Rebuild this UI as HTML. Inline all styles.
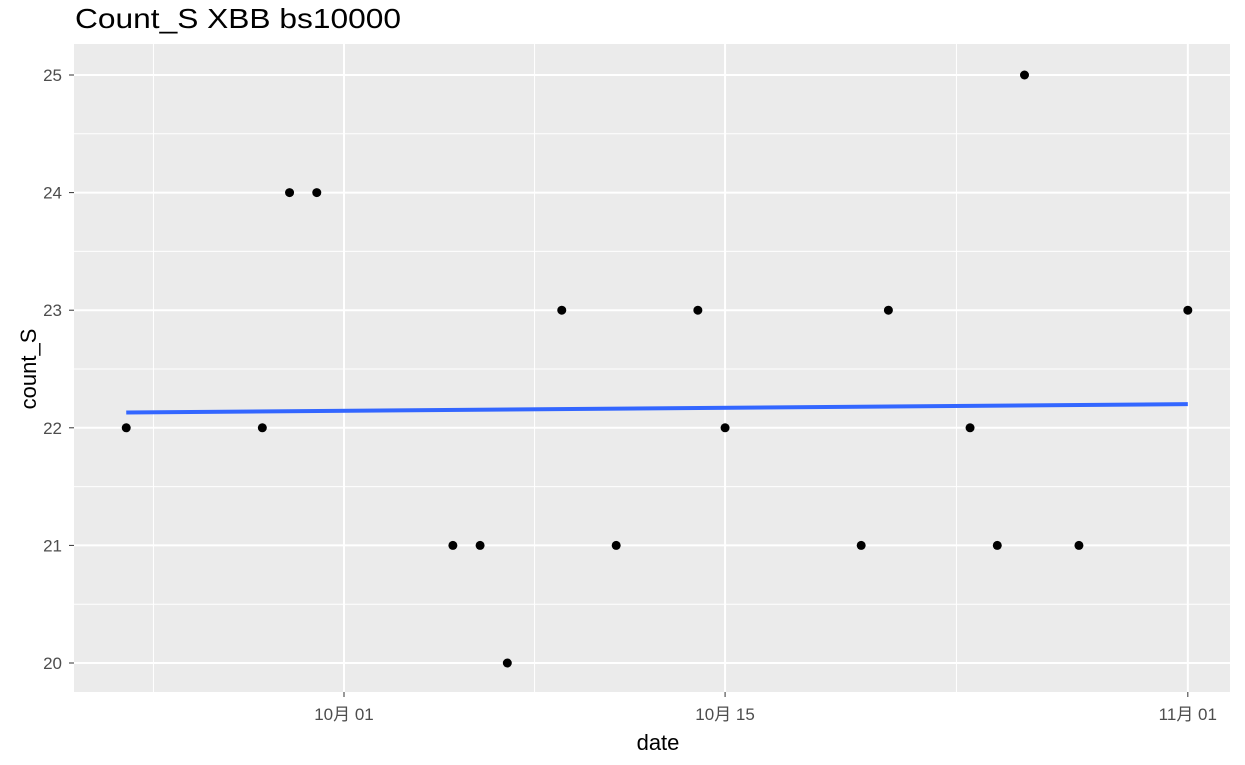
<!DOCTYPE html>
<html><head><meta charset="utf-8"><style>
body{margin:0;background:#fff;}
svg text{font-family:"Liberation Sans","Noto Sans CJK SC",sans-serif;}
</style></head><body>
<svg width="1245" height="760" xmlns="http://www.w3.org/2000/svg">
<text x="75" y="28" font-size="28" textLength="326" lengthAdjust="spacingAndGlyphs" fill="#000">Count_S XBB bs10000</text>
<rect x="74" y="44" width="1156" height="648" fill="#ebebeb"/>
<g id="grid"></g><g id="axes"></g><g id="marks"></g>
<text x="658" y="750" font-size="22" text-anchor="middle" fill="#000">date</text>
<text transform="translate(36,369) rotate(-90)" font-size="22" text-anchor="middle" fill="#000">count_S</text>
</svg>
<script>
const dayOffsets=[-8,-3,-2,-1,4,5,6,8,10,13,14,19,20,23,24,25,27,31];
const counts=[22,22,24,24,21,21,20,23,21,23,22,21,23,22,21,25,21,23];
const yTicks=[20,21,22,23,24,25];
const xTickDays=[0,14,31];
const xTickLabels=["10月 01","10月 15","11月 01"];
const xMinorDays=[-7,7,22.5];
const NS="http://www.w3.org/2000/svg";
const X=d=>344+d*27.22;
const Y=v=>663-(v-20)*117.6;
function mk(tag,attrs,parent){const e=document.createElementNS(NS,tag);for(const k in attrs)e.setAttribute(k,attrs[k]);document.getElementById(parent).appendChild(e);return e;}
yTicks.forEach((v,i)=>{
  if(v<25){
    let m=mk('line',{x1:74,x2:1230,y1:Y(v+0.5),y2:Y(v+0.5),stroke:'#fff','stroke-width':1},'grid');
    
  }
  let g=mk('line',{x1:74,x2:1230,y1:Y(v),y2:Y(v),stroke:'#fff','stroke-width':2},'grid');
  
  let t=mk('text',{x:62,y:Y(v)+6,'font-size':17,'text-anchor':'end',fill:'#4d4d4d'},'axes');t.textContent=v;
  
  let tk=mk('line',{x1:69,x2:74,y1:Y(v),y2:Y(v),stroke:'#333','stroke-width':1},'axes');
  
});
xMinorDays.forEach(d=>{
  let m=mk('line',{x1:X(d),x2:X(d),y1:44,y2:692,stroke:'#fff','stroke-width':1},'grid');
  
});
xTickDays.forEach((d,i)=>{
  let g=mk('line',{x1:X(d),x2:X(d),y1:44,y2:692,stroke:'#fff','stroke-width':2},'grid');
  
  let tk=mk('line',{x1:X(d),x2:X(d),y1:692,y2:697,stroke:'#333'},'axes');
  
  let t=mk('text',{x:X(d),y:720,'font-size':17,'text-anchor':'middle',fill:'#4d4d4d'},'axes');t.textContent=xTickLabels[i];
  
});
const n=dayOffsets.length;const mx=dayOffsets.reduce((a,b)=>a+b)/n;const my=counts.reduce((a,b)=>a+b)/n;
let sxy=0,sxx=0;for(let i=0;i<n;i++){sxy+=(dayOffsets[i]-mx)*(counts[i]-my);sxx+=(dayOffsets[i]-mx)**2;}
const b=sxy/sxx,a=my-b*mx;const d0=Math.min(...dayOffsets),d1=Math.max(...dayOffsets);
let fl=mk('line',{x1:X(d0),y1:Y(a+b*d0),x2:X(d1),y2:Y(a+b*d1),stroke:'#3366ff','stroke-width':4},'marks');

dayOffsets.forEach((d,i)=>{
  let c=mk('circle',{cx:X(d),cy:Y(counts[i]),r:4.5,fill:'#000'},'marks');
  
});
</script>
</body></html>
